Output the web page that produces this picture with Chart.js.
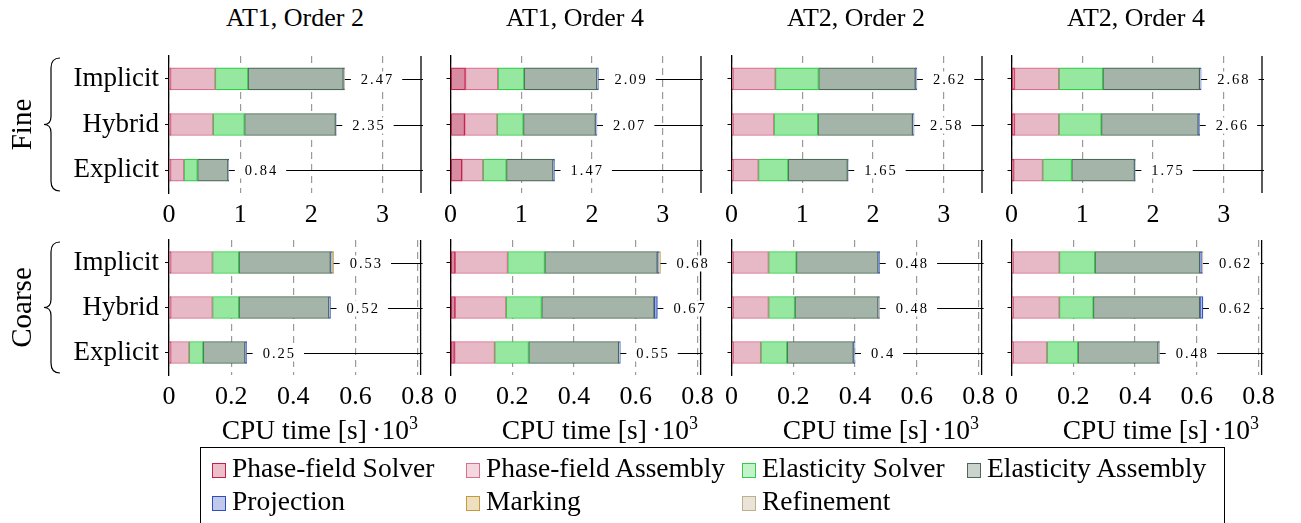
<!DOCTYPE html>
<html>
<head>
<meta charset="utf-8">
<script src="https://cdn.jsdelivr.net/npm/chart.js@4.4.1/dist/chart.umd.min.js"></script>
<style>
  body { margin: 0; background: #fff; }
  #page { position: relative; width: 1301px; height: 523px; overflow: hidden; font-family: "Liberation Serif", serif; color: #000; }
  #page canvas { position: absolute; }
  .title, .xlabel { position: absolute; white-space: nowrap; }
  .title { font-size: 26px; line-height: 26px; transform: translateX(-50%); }
  .xlabel { font-size: 27.5px; line-height: 27px; transform: translateX(-100%); }
  .legend { position: absolute; left: 200px; top: 447px; width: 1025px; height: 82px; border: 1.3px solid #000; box-sizing: border-box; }
  .item { position: absolute; font-size: 27.5px; line-height: 27px; white-space: nowrap; }
  .item .box { display: inline-block; width: 14px; height: 15px; border: 1.3px solid; box-sizing: border-box; margin-right: 6px; vertical-align: -1px; }
</style>
</head>
<body>
<div id="page"></div>
<script>
const categories = ['Implicit', 'Hybrid', 'Explicit'];
const columnTitles = ['AT1, Order 2', 'AT1, Order 4', 'AT2, Order 2', 'AT2, Order 4'];
const rowTitles = ['Fine', 'Coarse'];
const components = ['Phase-field Solver', 'Phase-field Assembly', 'Elasticity Solver', 'Elasticity Assembly',
                    'Projection', 'Marking', 'Refinement'];
const fineTicks = [0, 1, 2, 3];
const coarseTicks = [0, 0.2, 0.4, 0.6, 0.8];

// CPU time [s]·10^3 per component; one row per category, one column per component
const fineAT1o2 = [
    [0.02, 0.63, 0.46, 1.34, 0.01, 0.01, 0],
    [0.02, 0.60, 0.44, 1.28, 0.01, 0, 0],
    [0.02, 0.19, 0.19, 0.43, 0.01, 0, 0]
];
const fineAT1o4 = [
    [0.21, 0.46, 0.37, 1.03, 0.02, 0, 0],
    [0.20, 0.46, 0.37, 1.02, 0.02, 0, 0],
    [0.16, 0.30, 0.33, 0.66, 0.02, 0, 0]
];
const fineAT2o2 = [
    [0.02, 0.60, 0.61, 1.37, 0.02, 0, 0],
    [0.02, 0.58, 0.62, 1.34, 0.02, 0, 0],
    [0.02, 0.36, 0.42, 0.84, 0.01, 0, 0]
];
const fineAT2o4 = [
    [0.04, 0.63, 0.62, 1.37, 0.02, 0, 0],
    [0.04, 0.63, 0.60, 1.37, 0.02, 0, 0],
    [0.03, 0.41, 0.41, 0.89, 0.01, 0, 0]
];
const coarseAT1o2 = [
    [0.005, 0.135, 0.085, 0.295, 0.005, 0.005, 0],
    [0.005, 0.135, 0.085, 0.29, 0.005, 0, 0],
    [0.005, 0.06, 0.045, 0.135, 0.005, 0, 0]
];
const coarseAT1o4 = [
    [0.015, 0.17, 0.12, 0.365, 0.005, 0.005, 0],
    [0.015, 0.165, 0.115, 0.365, 0.01, 0, 0],
    [0.013, 0.13, 0.11, 0.292, 0.005, 0, 0]
];
const coarseAT2o2 = [
    [0.005, 0.115, 0.09, 0.265, 0.005, 0, 0],
    [0.005, 0.115, 0.085, 0.27, 0.003, 0.002, 0],
    [0.005, 0.09, 0.085, 0.215, 0.005, 0, 0]
];
const coarseAT2o4 = [
    [0.005, 0.15, 0.115, 0.34, 0.007, 0.003, 0],
    [0.005, 0.15, 0.11, 0.345, 0.01, 0, 0],
    [0.005, 0.11, 0.10, 0.26, 0.003, 0.002, 0]
];

const panelData = [
    [fineAT1o2, fineAT1o4, fineAT2o2, fineAT2o4],
    [coarseAT1o2, coarseAT1o4, coarseAT2o2, coarseAT2o4]
];

const fills = ['rgb(216,140,161)', 'rgb(231,184,197)', 'rgb(150,232,160)', 'rgb(165,180,168)',
               'rgb(180,190,232)', 'rgb(230,214,168)', 'rgb(232,226,212)'];
const strokes = ['rgb(198,32,74)', 'rgb(214,112,142)', 'rgb(48,205,70)', 'rgb(74,104,84)',
                 'rgb(44,78,190)', 'rgb(196,154,58)', 'rgb(190,176,140)'];
const legendFills = ['rgb(236,192,203)', 'rgb(244,216,224)', 'rgb(196,242,202)', 'rgb(202,212,204)',
                     'rgb(192,200,236)', 'rgb(236,224,192)', 'rgb(234,228,216)'];

// layout of the 2x4 grid of plot areas
const colLeft = [169, 449, 730, 1010];
const panelW = 252;
const rowTop = [56, 240];
const rowH = [137, 135];
const rowMax = [3.54, 0.81];
const rowTicks = [fineTicks, coarseTicks];
const padTop = 6, padRight = 20, axisBottom = 40;
const serif = 'Liberation Serif';

const page = document.getElementById('page');

const totalsPlugin = {
    id: 'totals',
    afterDatasetsDraw(chart) {
        const { ctx, chartArea, scales: { x, y } } = chart;
        ctx.save();
        // right frame of the axis, under the value labels
        ctx.strokeStyle = '#000';
        ctx.lineWidth = 1.3;
        ctx.beginPath();
        ctx.moveTo(chartArea.right, chartArea.top);
        ctx.lineTo(chartArea.right, chartArea.bottom);
        ctx.stroke();

        categories.forEach((cat, i) => {
            const total = chart.data.datasets.reduce((s, d) => s + d.data[i], 0);
            const label = String(Math.round(total * 100) / 100);
            const xe = x.getPixelForValue(total);
            const yc = Math.round(y.getPixelForValue(i)) + 0.5;
            ctx.strokeStyle = '#000';
            ctx.lineWidth = 1.2;
            ctx.beginPath();
            ctx.moveTo(xe, yc);
            ctx.lineTo(chartArea.right + 2, yc);
            ctx.stroke();
            ctx.font = '14.5px "' + serif + '"';
            ctx.letterSpacing = '2px';
            const w = ctx.measureText(label).width;
            ctx.fillStyle = '#fff';
            ctx.fillRect(xe + 6, yc - 8, w + 18, 16);
            ctx.fillStyle = '#000';
            ctx.textBaseline = 'middle';
            ctx.textAlign = 'left';
            ctx.fillText(label, xe + 16, yc + 1);
        });
        ctx.restore();
    }
};

// curly brace left of the category labels
const bracePlugin = {
    id: 'brace',
    afterDraw(chart, args, opts) {
        if (!opts.show) return;
        const { ctx, chartArea } = chart;
        const top = chartArea.top + 2, bottom = chartArea.bottom - 2, mid = (top + bottom) / 2;
        const xs = 51, xe = 60, xt = 44;
        ctx.save();
        ctx.strokeStyle = '#000';
        ctx.lineWidth = 1.2;
        ctx.beginPath();
        ctx.moveTo(xe, top);
        ctx.quadraticCurveTo(xs, top, xs, top + 10);
        ctx.lineTo(xs, mid - 8);
        ctx.quadraticCurveTo(xs, mid, xt, mid);
        ctx.quadraticCurveTo(xs, mid, xs, mid + 8);
        ctx.lineTo(xs, bottom - 10);
        ctx.quadraticCurveTo(xs, bottom, xe, bottom);
        ctx.stroke();
        ctx.restore();
    }
};

const makePanel = (row, col) => {
    const values = panelData[row][col];
    const leftW = col === 0 ? colLeft[0] : 12;
    const canvas = document.createElement('canvas');
    canvas.width = leftW + panelW + padRight;
    canvas.height = padTop + rowH[row] + axisBottom;
    canvas.style.left = (colLeft[col] - leftW) + 'px';
    canvas.style.top = (rowTop[row] - padTop) + 'px';
    page.appendChild(canvas);

    const ticks = rowTicks[row];

    new Chart(canvas.getContext('2d'), {
        type: 'bar',
        data: {
            labels: categories,
            datasets: components.map((name, k) => ({
                label: name,
                data: values.map(r => r[k]),
                backgroundColor: fills[k],
                borderColor: strokes[k],
                borderWidth: 1.2,
                borderSkipped: false,
                barThickness: 22
            }))
        },
        plugins: [totalsPlugin, bracePlugin],
        options: {
            indexAxis: 'y',
            responsive: false,
            animation: false,
            layout: { padding: { top: padTop, right: padRight, left: 0, bottom: 0 } },
            plugins: {
                legend: { display: false },
                tooltip: { enabled: false },
                brace: { show: col === 0 }
            },
            scales: {
                x: {
                    stacked: true,
                    min: 0,
                    max: rowMax[row],
                    afterFit: s => { s.height = axisBottom; },
                    afterBuildTicks: s => { s.ticks = ticks.map(v => ({ value: v })); },
                    border: { display: false, dash: [7, 5] },
                    grid: { color: '#9a9a9a', lineWidth: 1.2, drawTicks: false },
                    ticks: {
                        maxRotation: 0,
                        autoSkip: false,
                        padding: 7,
                        color: '#000',
                        font: { family: serif, size: 26 },
                        callback: v => String(Number(v.toFixed(2)))
                    }
                },
                y: {
                    stacked: true,
                    // fixed width, and no extra room for the first/last label
                    afterFit: s => { s.width = leftW; s.paddingTop = 0; s.paddingBottom = 0; },
                    border: { display: true, color: '#000', width: 1.3 },
                    grid: { drawOnChartArea: false, offset: false, tickLength: 4, color: '#000', lineWidth: 1 },
                    ticks: {
                        display: col === 0,
                        padding: 6,
                        color: '#000',
                        font: { family: serif, size: 27 }
                    },
                    title: {
                        display: col === 0,
                        text: rowTitles[row],
                        color: '#000',
                        padding: { top: 6, bottom: 0 },
                        font: { family: serif, size: 29 }
                    }
                }
            }
        }
    });
};

for (let r = 0; r < 2; r++) {
    for (let c = 0; c < 4; c++) makePanel(r, c);
}

columnTitles.forEach((t, c) => {
    const d = document.createElement('div');
    d.className = 'title';
    d.textContent = t;
    d.style.left = (colLeft[c] + panelW / 2) + 'px';
    d.style.top = '5px';
    page.appendChild(d);
});

colLeft.forEach(x => {
    const d = document.createElement('div');
    d.className = 'xlabel';
    d.innerHTML = 'CPU time [s]&thinsp;·10<sup style="font-size:18px;vertical-align:10px;line-height:0">3</sup>';
    d.style.left = (x + panelW - 3) + 'px';
    d.style.top = '416px';
    page.appendChild(d);
});

const legend = document.createElement('div');
legend.className = 'legend';
page.appendChild(legend);
const legendX = [212, 466, 742, 967, 212, 466, 742];
const legendY = [454, 454, 454, 454, 487, 487, 487];
components.forEach((name, k) => {
    const d = document.createElement('div');
    d.className = 'item';
    d.style.left = legendX[k] + 'px';
    d.style.top = legendY[k] + 'px';
    d.innerHTML = '<span class="box" style="background:' + legendFills[k] + ';border-color:' + strokes[k] + '"></span>' + name;
    page.appendChild(d);
});
</script>
</body>
</html>
